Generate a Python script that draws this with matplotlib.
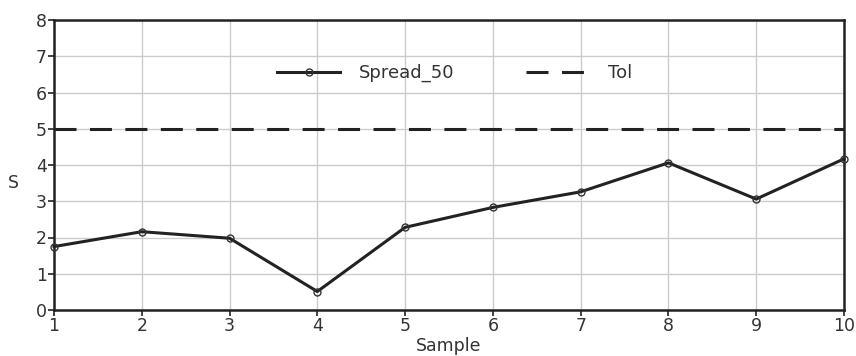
import matplotlib
matplotlib.use('Agg')
import matplotlib.pyplot as plt

# Datos
samples = [1, 2, 3, 4, 5, 6, 7, 8, 9, 10]
spread_50 = [1.75, 2.16, 1.98, 0.51, 2.28, 2.83, 3.26, 4.06, 3.06, 4.17]
tol = 5

txt = '#333333'
plt.rcParams['font.family'] = 'DejaVu Sans'

fig = plt.figure(figsize=(8.56, 3.56), dpi=100)
ax = fig.add_axes([54 / 856, 1 - 310 / 356, (844 - 54) / 856, (310 - 20) / 356])

ax.plot(samples, spread_50, color='#222222', lw=2.2, marker='o', ms=5,
        mfc='none', mec='#333333', mew=1.0, label='Spread_50', clip_on=False, zorder=3)
ax.axhline(tol, color='#222222', lw=2.2, dashes=(7.2, 4.4), label='Tol', zorder=3)

ax.set_xlim(1, 10)
ax.set_ylim(0, 8)
ax.set_xticks(samples)
ax.set_yticks(range(0, 9))
ax.grid(True, color='#cccccc', lw=1.0)
ax.set_axisbelow(True)

for s in ax.spines.values():
    s.set_color('#222222')
    s.set_linewidth(1.8)

ax.tick_params(axis='both', labelsize=12.5, labelcolor=txt, color='#222222',
               length=4, width=1.2, pad=1)
ax.set_xlabel('Sample', fontsize=12.5, color=txt, labelpad=1.5)
ax.set_ylabel('S', fontsize=12.5, color=txt, rotation=0, labelpad=14, va='center')
ax.yaxis.set_label_coords(-0.052, 0.438)

leg = ax.legend(loc='center', bbox_to_anchor=(0.507, 0.817), ncol=2, frameon=False,
                fontsize=13, handlelength=3.5, columnspacing=4.0, handletextpad=1.0)
for t in leg.get_texts():
    t.set_color(txt)

fig.savefig('out.png', dpi=100)
